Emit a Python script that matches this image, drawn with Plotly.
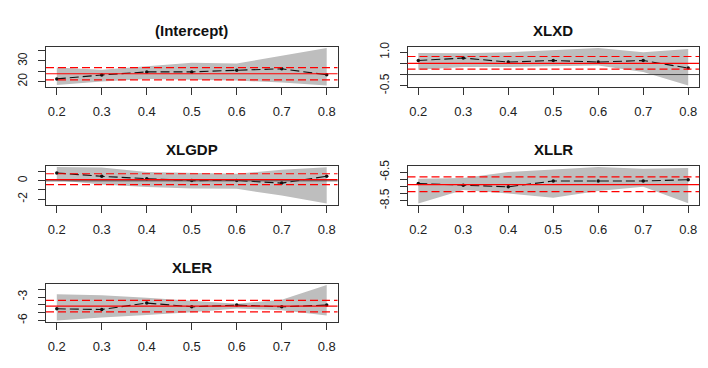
import plotly.graph_objects as go

taus = [0.2, 0.3, 0.4, 0.5, 0.6, 0.7, 0.8]
x_tick_labels = ["0.2", "0.3", "0.4", "0.5", "0.6", "0.7", "0.8"]

# (Intercept)
int_est = [21.3, 23.2, 24.7, 24.7, 25.5, 26.2, 23.3]
int_lo = [18.4, 20.0, 21.2, 20.8, 20.5, 19.5, 18.1]
int_hi = [26.8, 25.8, 27.5, 29.2, 28.8, 32.5, 36.3]
int_ols = [23.8, 20.8, 26.8]

# XLXD
xlxd_est = [0.63, 0.74, 0.56, 0.63, 0.56, 0.63, 0.29]
xlxd_lo = [0.22, 0.34, 0.34, 0.37, 0.41, 0.12, -0.49]
xlxd_hi = [0.97, 0.96, 1.00, 1.10, 1.19, 1.00, 1.15]
xlxd_ols = [0.50, 0.24, 0.81]

# XLGDP
xlgdp_est = [0.85, 0.49, 0.23, 0.02, 0.04, -0.25, 0.50]
xlgdp_lo = [0.05, -0.41, -0.67, -0.85, -0.88, -1.60, -2.48]
xlgdp_hi = [1.51, 1.45, 0.95, 0.85, 0.77, 1.20, 1.48]
xlgdp_ols = [0.13, -0.41, 0.77]

# XLLR
xllr_est = [-7.30, -7.42, -7.53, -7.12, -7.12, -7.12, -7.03]
xllr_lo = [-8.70, -7.75, -7.99, -8.29, -7.83, -7.53, -8.68]
xllr_hi = [-6.96, -6.91, -6.50, -6.34, -6.14, -6.27, -6.22]
xllr_ols = [-7.37, -7.86, -6.84]

# XLER
xler_est = [-4.50, -4.59, -3.77, -4.24, -4.03, -4.24, -4.03]
xler_lo = [-6.00, -5.60, -5.30, -4.95, -4.45, -4.70, -5.35]
xler_hi = [-2.66, -2.79, -3.09, -3.52, -3.86, -3.34, -1.46]
xler_ols = [-4.16, -4.89, -3.43]

panels = [
    ("(Intercept)", int_est, int_lo, int_hi, int_ols,
     [20, 25, 30, 35], ["20", "", "30", ""]),
    ("XLXD", xlxd_est, xlxd_lo, xlxd_hi, xlxd_ols,
     [-0.5, 0, 0.5, 1.0], ["-0.5", "", "", "1.0"]),
    ("XLGDP", xlgdp_est, xlgdp_lo, xlgdp_hi, xlgdp_ols,
     [-2, -1, 0, 1], ["-2", "", "0", ""]),
    ("XLLR", xllr_est, xllr_lo, xllr_hi, xllr_ols,
     [-8.5, -8, -7.5, -7, -6.5], ["-8.5", "", "", "", "-6.5"]),
    ("XLER", xler_est, xler_lo, xler_hi, xler_ols,
     [-6, -5, -4, -3, -2], ["-6", "", "", "-3", ""]),
]

W, H = 708, 368
col_px = [(46, 337.5), (407.5, 699)]
row_px = [(46.5, 87), (165.5, 205), (283.5, 322)]

fig = go.Figure()
FONT = "Liberation Sans, Arial, sans-serif"
TXT = "#222222"

xpad = 0.04 * (taus[-1] - taus[0])
xr = [taus[0] - xpad, taus[-1] + xpad]

for i, (name, est, lo, hi, ols, tv, tt) in enumerate(panels):
    r, c = divmod(i, 2)
    xa = "x" if i == 0 else f"x{i+1}"
    ya = "y" if i == 0 else f"y{i+1}"
    lay_x = "xaxis" if i == 0 else f"xaxis{i+1}"
    lay_y = "yaxis" if i == 0 else f"yaxis{i+1}"
    x0, x1 = col_px[c]
    yt, yb = row_px[r]
    xd = [x0 / W, x1 / W]
    yd = [1 - yb / H, 1 - yt / H]

    lo_all = min(lo)
    hi_all = max(hi)
    pad = 0.04 * (hi_all - lo_all)
    yr = [lo_all - pad, hi_all + pad]

    # confidence band
    fig.add_trace(go.Scatter(
        x=taus + taus[::-1], y=hi + lo[::-1], fill="toself",
        fillcolor="#BEBEBE", line=dict(width=0), mode="lines",
        hoverinfo="skip", showlegend=False, xaxis=xa, yaxis=ya))
    # estimates
    fig.add_trace(go.Scatter(
        x=taus, y=est, mode="lines+markers",
        line=dict(color="#111111", width=1.1, dash="9px,4px"),
        marker=dict(color="#111111", size=3.5),
        showlegend=False, xaxis=xa, yaxis=ya))

    xref = f"{xa} domain"
    # zero line
    if yr[0] < 0 < yr[1]:
        fig.add_shape(type="line", xref=xref, yref=ya, x0=0, x1=1, y0=0, y1=0,
                      line=dict(color="#444444", width=1), layer="above")
    # OLS estimate and CI
    fig.add_shape(type="line", xref=xref, yref=ya, x0=0, x1=1, y0=ols[0], y1=ols[0],
                  line=dict(color="#FF0000", width=1.2), layer="above")
    for v in ols[1:]:
        fig.add_shape(type="line", xref=xref, yref=ya, x0=0, x1=1, y0=v, y1=v,
                      line=dict(color="#FF0000", width=1.2, dash="8px,4px"),
                      layer="above")

    fig.layout[lay_x] = dict(
        domain=xd, range=xr, anchor=ya, tickvals=taus, ticktext=x_tick_labels,
        ticks="outside", ticklen=7, tickcolor="#333333", showgrid=False,
        zeroline=False, showline=True, linecolor="#333333", linewidth=1,
        mirror=True, tickfont=dict(family=FONT, size=13, color=TXT),
        ticklabelstandoff=5, automargin=False)
    fig.layout[lay_y] = dict(
        domain=yd, range=yr, anchor=xa, tickvals=tv, ticktext=tt,
        ticks="outside", ticklen=7, tickcolor="#333333", showgrid=False,
        zeroline=False, showline=True, linecolor="#333333", linewidth=1,
        mirror=True, tickangle=-90,
        tickfont=dict(family=FONT, size=12, color=TXT), ticklabelstandoff=6,
        automargin=False)

    fig.add_annotation(
        text=f"<b>{name}</b>", xref="paper", yref="paper",
        x=(xd[0] + xd[1]) / 2, y=1 - (yt - 16.5) / H,
        xanchor="center", yanchor="middle", showarrow=False,
        font=dict(family=FONT, size=15, color="#111111"))

fig.update_layout(
    width=W, height=H, margin=dict(l=0, r=0, t=0, b=0),
    paper_bgcolor="white", plot_bgcolor="white", showlegend=False)

fig.write_html(
    "out.html",
    config={"displayModeBar": False, "staticPlot": True},
    post_script="document.body.style.margin='0';"
                "document.body.style.overflow='hidden';")
